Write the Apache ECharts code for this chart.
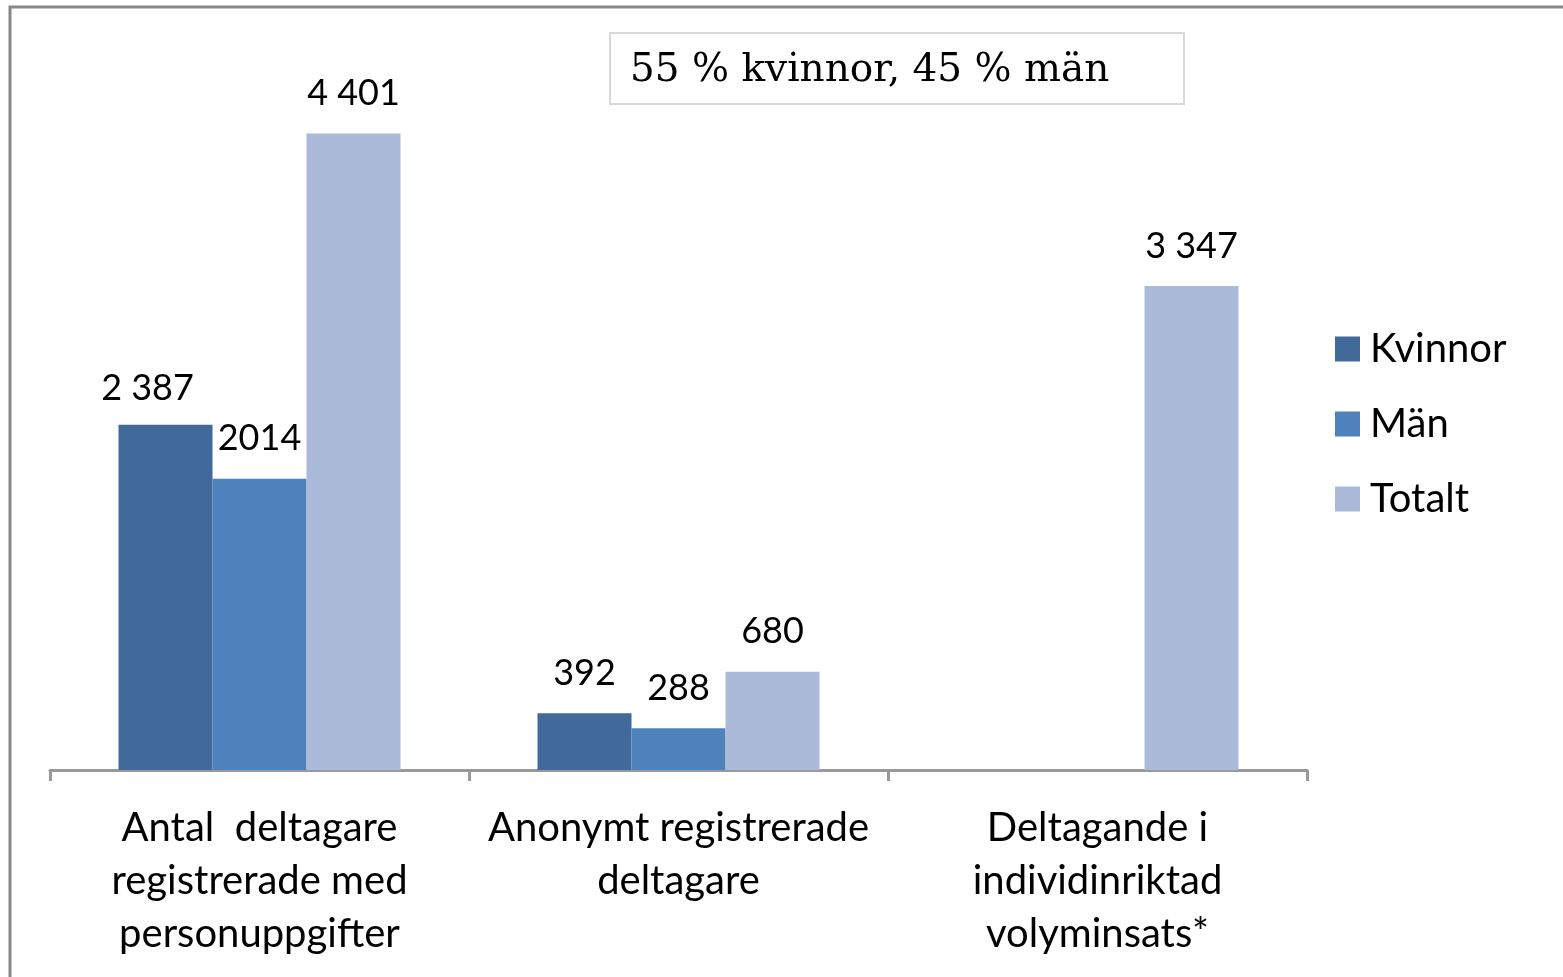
<!DOCTYPE html>
<html>
<head>
<meta charset="utf-8">
<script src="https://cdn.jsdelivr.net/npm/echarts@6/dist/echarts.min.js"></script>
<style>
  html, body { margin: 0; padding: 0; background: #fff; }
  #chart { width: 1563px; height: 977px; }
</style>
</head>
<body>
<div id="chart"></div>
<script>
// data
var categories = [
  'Antal  deltagare\nregistrerade med\npersonuppgifter',
  'Anonymt registrerade\ndeltagare',
  'Deltagande i\nindividinriktad\nvolyminsats*'
]
var kvinnor = [2387, 392, null]
var man = [2014, 288, null]
var totalt = [4401, 680, 3347]
var kvinnorLabels = ['2 387', '392', '']
var manLabels = ['2014', '288', '']
var totaltLabels = ['4 401', '680', '3 347']
var note = '55 % kvinnor, 45 % män'

var font = 'Lato, "Open Sans", sans-serif'

function labelled(values, labels) {
  return values.map(function (v, i) {
    return v == null ? '-' : { value: v, labelText: labels[i] }
  })
}

var barLabel = {
  show: true,
  position: 'top',
  distance: 22,
  fontFamily: font,
  fontSize: 36,
  color: '#000',
  formatter: function (p) { return p.data.labelText }
}

var kvData = labelled(kvinnor, kvinnorLabels)
// first label sits a bit left of its bar in the original
kvData[0].label = { offset: [-18, 4] }

var chart = echarts.init(document.getElementById('chart'))
chart.setOption({
  animation: false,
  color: ['#41699a', '#4f81bd', '#abbad8'],
  grid: { left: 50, right: 256, top: 47, bottom: 207 },
  legend: {
    orient: 'vertical',
    left: 1330,
    top: 324,
    itemWidth: 25,
    itemHeight: 25,
    itemGap: 35,
    icon: 'rect',
    textStyle: { fontFamily: font, fontSize: 40, color: '#000', padding: [0, 0, 0, 5] },
    data: ['Kvinnor', 'Män', 'Totalt']
  },
  xAxis: {
    type: 'category',
    data: categories,
    axisLine: { lineStyle: { color: '#999', width: 3 } },
    axisTick: { show: true, length: 11, lineStyle: { color: '#999', width: 3 } },
    axisLabel: {
      interval: 0,
      margin: 32,
      fontFamily: font,
      fontSize: 40,
      lineHeight: 53,
      color: '#000',
      verticalAlign: 'top'
    }
  },
  yAxis: {
    type: 'value',
    min: 0,
    max: 5000,
    show: false,
    splitLine: { show: false }
  },
  series: [
    { name: 'Kvinnor', type: 'bar', barWidth: 94, barGap: '0%', data: kvData, label: barLabel },
    { name: 'Män', type: 'bar', barWidth: 94, barGap: '0%', data: labelled(man, manLabels), label: barLabel },
    { name: 'Totalt', type: 'bar', barWidth: 94, barGap: '0%', data: labelled(totalt, totaltLabels), label: barLabel }
  ],
  graphic: [
    {
      type: 'rect',
      shape: { x: 10, y: 7, width: 1600, height: 1000 },
      style: { fill: 'none', stroke: '#888', lineWidth: 3 },
      silent: true
    },
    {
      type: 'rect',
      shape: { x: 610, y: 33, width: 574, height: 71 },
      style: { fill: '#fff', stroke: '#d9d9d9', lineWidth: 2 },
      silent: true
    },
    {
      type: 'text',
      x: 630,
      y: 71,
      style: {
        text: note,
        font: '39px "DejaVu Serif", "Liberation Serif", serif',
        fill: '#000',
        verticalAlign: 'middle'
      },
      silent: true
    }
  ]
})
</script>
</body>
</html>
